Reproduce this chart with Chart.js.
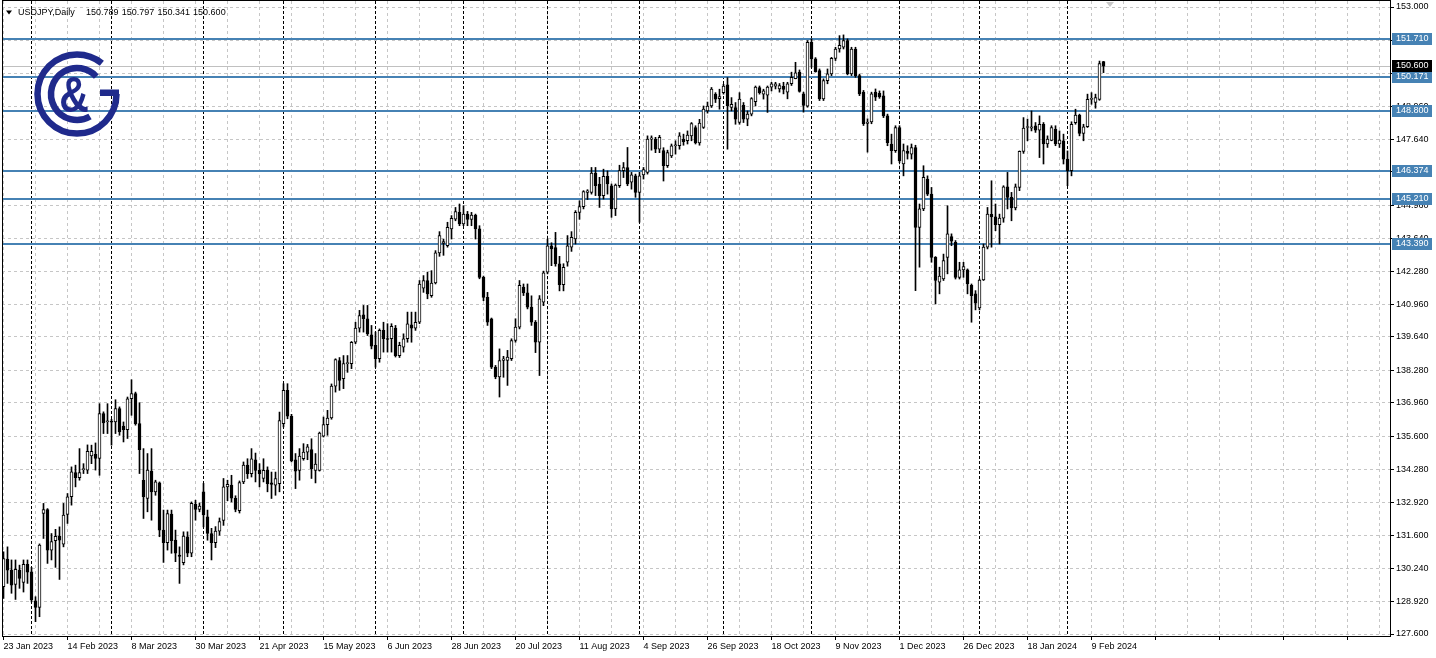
<!DOCTYPE html>
<html>
<head>
<meta charset="utf-8">
<title>USDJPY Daily</title>
<script src="https://cdn.jsdelivr.net/npm/chart.js@4.4.1/dist/chart.umd.min.js"></script>
<style>
  html, body { margin: 0; padding: 0; background: #fff; }
  #chart { display: block; }
</style>
</head>
<body>
<canvas id="chart" width="1436" height="658"></canvas>
<script>
// daily bars, 23 Jan 2023 .. 14 Feb 2024 (index = bar number)
const opens = [
  129.52,130.64,130.19,129.61,130.19,129.69,130.42,130.12,128.94,128.68,
  132.48,132.64,131.00,131.38,131.57,131.24,132.44,133.16,134.14,133.93,
  134.26,134.24,134.81,134.88,134.71,136.53,136.20,136.22,136.19,136.73,
  136.02,135.88,137.13,137.34,136.12,133.83,133.09,134.20,133.36,133.72,
  131.81,131.30,132.46,131.40,130.80,130.49,131.54,130.87,132.85,132.65,
  133.36,132.35,131.67,131.30,131.77,132.20,133.56,133.63,133.10,132.60,
  133.76,134.44,134.10,134.66,134.23,133.90,134.23,133.72,133.63,133.69,
  136.12,137.47,136.42,134.66,134.23,134.70,134.97,135.07,134.23,134.23,
  135.61,136.08,136.35,137.64,138.68,137.94,138.55,138.55,139.42,139.99,
  140.53,140.37,139.72,139.29,138.75,139.90,139.56,139.56,139.99,138.88,
  139.22,139.56,140.12,139.99,140.23,141.61,141.92,141.31,141.82,143.04,
  143.42,143.33,144.01,144.41,144.68,144.21,144.61,144.39,144.57,144.01,
  142.05,141.24,140.37,138.41,138.01,138.68,138.68,138.75,139.49,140.03,
  141.65,141.42,140.84,140.23,139.42,141.04,142.26,143.33,143.25,142.60,
  141.75,142.66,143.27,143.60,144.68,144.91,145.49,145.49,146.27,145.83,
  145.36,146.14,145.76,144.82,145.76,146.37,146.49,145.90,146.16,145.49,
  146.20,146.30,147.65,147.65,147.24,147.18,146.57,146.97,147.38,147.38,
  147.65,147.58,147.78,148.12,147.49,148.12,148.79,148.99,149.47,149.29,
  149.53,149.85,148.93,148.93,148.32,149.02,148.46,148.66,149.16,149.74,
  149.47,149.43,149.75,149.79,149.68,149.79,149.55,149.89,150.10,150.36,
  149.48,148.98,151.57,150.90,150.42,149.28,150.02,150.29,150.92,151.30,
  151.37,151.64,150.29,151.30,150.22,149.55,148.28,148.34,149.55,149.50,
  149.40,148.59,147.45,147.18,148.12,146.64,147.15,147.04,147.31,144.07,
  144.82,146.03,145.42,142.86,141.85,141.98,142.86,143.70,143.47,142.05,
  142.35,142.35,141.72,141.38,140.81,141.94,143.27,144.60,144.50,144.18,
  144.45,145.72,145.29,144.86,145.69,147.15,148.12,148.09,148.19,148.01,
  148.25,147.45,147.60,148.05,147.45,147.58,146.84,146.37,148.31,148.62,
  147.88,148.15,149.26,149.13,149.26,150.789
];
const highs = [
  130.93,131.13,130.60,130.60,130.39,130.60,130.60,130.30,129.11,131.25,
  132.89,132.68,131.67,131.84,131.94,132.89,133.29,134.37,134.44,135.11,
  134.50,135.26,135.25,135.34,136.93,136.60,136.93,136.30,137.09,136.80,
  136.19,137.20,137.90,137.40,136.97,135.11,134.91,135.11,133.83,133.76,
  132.62,132.62,132.62,131.81,131.13,131.74,131.74,132.95,133.02,132.91,
  133.70,132.62,131.88,131.95,132.30,133.90,133.83,134.03,133.20,133.80,
  134.57,134.70,135.11,134.93,134.50,134.70,134.37,134.16,134.16,136.59,
  137.74,137.74,136.50,134.91,135.11,135.31,135.28,135.51,134.91,135.78,
  136.39,136.66,137.73,138.75,138.80,138.88,138.88,139.45,140.23,140.71,
  140.91,140.91,140.10,139.83,139.96,140.23,140.17,140.17,140.10,139.42,
  139.76,140.64,140.64,140.64,141.92,142.12,142.26,142.32,143.13,143.90,
  143.60,144.28,144.55,144.88,145.02,144.95,144.72,144.68,144.61,144.14,
  142.10,141.44,140.40,138.48,139.15,138.85,139.09,139.56,140.37,141.92,
  141.78,141.78,141.30,140.30,141.31,142.30,143.60,143.45,143.87,142.90,
  142.60,143.74,143.90,144.75,145.15,145.56,145.60,146.50,146.50,146.10,
  146.43,146.36,145.83,145.83,146.59,146.70,147.31,146.30,146.23,146.30,
  146.50,147.78,147.78,147.72,147.80,147.30,147.20,147.45,147.58,147.91,
  147.85,147.98,148.32,148.19,148.45,148.99,149.15,149.74,149.53,149.67,
  149.87,150.14,149.33,149.13,149.53,149.13,148.79,149.33,149.80,149.80,
  149.67,149.80,149.95,149.95,149.90,149.95,149.95,150.36,150.76,150.45,
  149.55,151.64,151.71,150.95,150.49,150.09,150.49,150.96,151.37,151.84,
  151.87,151.71,151.37,151.37,150.28,149.62,148.47,149.55,149.68,149.60,
  149.60,148.66,147.85,148.19,148.19,147.45,147.38,147.45,147.40,145.02,
  146.57,146.16,145.69,142.89,142.46,142.99,144.95,143.81,143.54,142.66,
  142.66,142.39,141.78,141.51,141.98,143.40,144.88,145.96,145.02,144.61,
  145.76,146.30,145.49,145.83,147.17,148.52,148.46,148.79,148.32,148.59,
  148.32,147.78,148.19,148.19,147.98,147.85,147.17,148.35,148.86,148.66,
  148.25,149.47,149.53,149.47,150.81,150.797
];
const lows = [
  129.04,129.65,129.25,129.00,129.45,129.30,129.65,128.90,128.10,128.30,
  131.47,130.46,130.60,130.30,129.81,131.13,132.08,132.82,133.56,133.83,
  134.10,134.10,134.50,134.24,134.03,135.72,135.72,135.25,135.72,135.65,
  135.38,135.52,136.46,136.06,134.10,132.28,132.55,132.21,133.22,131.54,
  130.50,131.00,130.87,130.53,129.65,130.40,130.73,130.73,132.21,132.55,
  131.94,131.40,130.60,131.10,131.60,132.00,133.00,132.95,132.55,132.50,
  133.69,133.90,133.96,133.76,133.56,133.76,133.36,133.09,133.22,133.36,
  135.99,136.32,134.57,133.49,133.83,134.64,134.66,133.90,133.72,134.20,
  135.58,135.65,136.30,137.40,137.47,137.54,138.20,138.35,139.36,139.83,
  139.83,139.69,139.15,138.41,138.61,139.02,139.02,139.02,138.82,138.80,
  139.02,139.42,139.42,139.90,140.17,141.44,141.18,141.24,141.78,142.90,
  142.94,143.27,143.60,144.34,144.14,144.14,144.14,144.14,143.60,141.99,
  141.10,140.10,138.35,137.94,137.20,138.00,137.67,138.68,139.42,139.96,
  141.31,140.77,140.10,139.00,138.07,140.90,142.19,142.52,142.50,141.50,
  141.50,142.50,143.10,143.40,144.40,144.82,145.20,145.42,145.36,144.88,
  145.22,145.42,144.48,144.55,145.69,146.09,145.76,145.62,145.29,144.28,
  146.03,146.23,147.20,147.10,147.10,145.95,146.50,146.90,147.04,147.24,
  147.40,147.45,147.58,147.45,147.40,148.08,148.70,148.93,149.13,148.86,
  149.47,147.24,148.79,148.25,148.25,148.32,148.19,148.59,148.99,149.47,
  149.27,148.73,149.60,149.68,149.55,149.48,149.28,149.82,150.09,149.55,
  148.74,148.94,150.56,150.36,149.21,149.21,149.89,150.22,150.83,151.17,
  151.30,150.25,150.22,150.15,149.41,148.20,147.12,148.27,149.21,149.30,
  148.52,147.38,146.64,147.11,146.70,146.16,146.84,146.84,141.51,142.46,
  144.75,145.36,142.66,140.97,141.38,141.92,142.19,143.33,141.98,141.98,
  142.05,141.38,140.23,140.73,140.73,141.92,143.20,143.27,143.94,143.40,
  144.28,144.82,144.34,144.78,145.56,147.07,147.58,147.98,147.92,146.90,
  146.64,147.31,147.58,147.38,147.31,146.64,145.76,146.16,148.25,147.78,
  147.58,148.12,149.06,148.90,149.22,150.341
];
const closes = [
  130.66,130.19,129.58,130.22,129.85,130.42,130.10,128.98,128.68,131.20,
  132.64,131.00,131.34,131.56,131.40,132.42,133.16,134.17,133.93,134.14,
  134.30,135.00,135.00,134.71,136.53,136.15,136.24,136.18,136.73,135.79,
  135.88,137.13,137.34,136.12,135.07,133.16,134.24,133.36,133.76,131.81,
  131.30,132.48,131.38,130.87,130.74,131.57,130.87,132.89,132.65,132.78,
  132.42,131.67,131.30,131.77,132.15,133.56,133.66,133.10,132.65,133.73,
  134.44,134.10,134.70,134.23,134.10,134.23,133.69,133.66,133.90,136.25,
  137.47,136.42,134.61,134.20,134.81,134.97,135.18,134.30,134.48,135.74,
  136.08,136.35,137.64,138.72,137.87,138.55,138.58,139.42,139.99,140.50,
  140.37,139.76,139.26,138.75,139.90,139.56,139.53,140.06,138.88,139.29,
  139.56,140.17,139.99,140.23,141.78,141.92,141.38,141.82,143.04,143.74,
  143.50,144.07,144.44,144.71,144.21,144.61,144.39,144.57,144.01,142.05,
  141.24,140.23,138.41,138.01,138.68,138.75,138.82,139.49,140.03,141.72,
  141.42,140.84,140.23,139.42,141.18,142.23,143.33,143.20,142.60,141.75,
  142.45,143.33,143.67,144.68,144.91,145.52,145.55,146.27,145.76,145.36,
  146.14,145.83,144.82,145.79,146.37,146.49,145.83,146.20,145.49,146.16,
  146.41,147.65,147.70,147.24,147.72,146.57,147.10,147.38,147.42,147.78,
  147.54,147.81,148.28,147.49,148.30,148.86,148.99,149.67,149.27,149.37,
  149.80,149.00,149.06,148.46,149.27,148.46,148.66,149.29,149.76,149.53,
  149.60,149.76,149.89,149.89,149.82,149.66,149.89,150.15,150.33,149.58,
  149.01,151.57,150.90,150.38,149.28,150.02,150.29,150.92,151.30,151.45,
  151.64,150.29,151.30,150.22,149.48,148.27,148.34,149.48,149.35,149.36,
  148.59,147.50,147.18,148.12,146.77,147.18,147.07,147.31,144.07,144.82,
  146.10,145.42,142.86,141.92,142.10,142.73,143.81,143.51,142.05,142.35,
  142.48,141.78,141.31,141.00,141.94,143.27,144.61,144.50,144.18,144.45,
  145.72,145.29,144.86,145.72,147.15,148.09,148.15,148.15,148.01,148.25,
  147.45,147.65,148.12,147.45,147.61,146.84,146.37,148.25,148.62,147.88,
  148.15,149.26,149.30,149.33,150.71,150.600
];

// axis labels every 16 bars
const dateLabels = [
  '23 Jan 2023','14 Feb 2023','8 Mar 2023','30 Mar 2023','21 Apr 2023','15 May 2023',
  '6 Jun 2023','28 Jun 2023','20 Jul 2023','11 Aug 2023','4 Sep 2023','26 Sep 2023',
  '18 Oct 2023','9 Nov 2023','1 Dec 2023','26 Dec 2023','18 Jan 2024','9 Feb 2024'
];
// first bar of each month (period separators)
const monthStarts = [7, 27, 50, 70, 93, 115, 136, 159, 180, 202, 224, 244, 266];
const priceTicks = [
  127.6, 128.92, 130.24, 131.6, 132.92, 134.28, 135.6, 136.96, 138.28, 139.64,
  140.96, 142.28, 143.64, 144.96, 146.32, 147.64, 148.96, 150.32, 151.64, 153.0
];
const levels = [151.710, 150.171, 148.800, 146.374, 145.210, 143.390];
const symbol = 'USDJPY,Daily';

const FONT = '"Liberation Sans", Arial, sans-serif';
const gridColor = '#c6c6c6';
const levelColor = '#4682b4';
const logoColor = '#1f2a8c';

const bodies = closes.map((c, i) => ({ x: i, y: [Math.min(opens[i], c), Math.max(opens[i], c)] }));
const wicks = highs.map((h, i) => ({ x: i, y: [lows[i], h] }));
const bodyFill = closes.map((c, i) => (c >= opens[i] ? '#ffffff' : '#000000'));

const xGrid = [];
for (let v = 0; v <= 344; v += 8) xGrid.push(v);

function drawLogo(ctx) {
  const cx = 77, cy = 94;
  ctx.save();
  ctx.strokeStyle = logoColor;
  ctx.fillStyle = logoColor;
  ctx.lineWidth = 6.5;
  ctx.beginPath();
  ctx.arc(cx, cy, 39.5, 0, 309 * Math.PI / 180);
  ctx.stroke();
  ctx.fillRect(100, 89.5, 19, 6.5);
  ctx.beginPath();
  ctx.arc(cx, cy, 26, 60 * Math.PI / 180, 318 * Math.PI / 180);
  ctx.stroke();
  ctx.translate(74, 112);
  ctx.scale(0.82, 1);
  ctx.font = 'bold 50px ' + FONT;
  ctx.textAlign = 'center';
  ctx.fillText('&', 0, 0);
  ctx.restore();
}

const mtOverlay = {
  id: 'mtOverlay',
  beforeDatasetsDraw(chart) {
    const { ctx, chartArea: a, scales: { x, y } } = chart;
    ctx.save();
    ctx.beginPath();
    ctx.rect(a.left, a.top, a.right - a.left, a.bottom - a.top);
    ctx.clip();
    ctx.strokeStyle = '#000';
    ctx.lineWidth = 1;
    ctx.setLineDash([3, 2]);
    monthStarts.forEach(i => {
      const px = Math.floor(x.getPixelForValue(i)) + 0.5;
      ctx.beginPath();
      ctx.moveTo(px, a.top);
      ctx.lineTo(px, a.bottom);
      ctx.stroke();
    });
    ctx.setLineDash([]);
    const py = Math.round(y.getPixelForValue(closes[closes.length - 1])) + 0.5;
    ctx.strokeStyle = '#c0c0c0';
    ctx.beginPath();
    ctx.moveTo(a.left, py);
    ctx.lineTo(a.right, py);
    ctx.stroke();
    ctx.fillStyle = levelColor;
    levels.forEach(v => {
      const ly = Math.round(y.getPixelForValue(v));
      ctx.fillRect(a.left, ly - 1, a.right - a.left, 2);
    });
    ctx.restore();
  },
  afterDraw(chart) {
    const { ctx, chartArea: a, scales: { y } } = chart;
    ctx.save();
    // frame
    ctx.strokeStyle = '#000';
    ctx.lineWidth = 1;
    ctx.strokeRect(a.left + 0.5, 0.5, a.right - a.left, a.bottom);
    // price labels on the axis
    ctx.font = '9px ' + FONT;
    ctx.textBaseline = 'middle';
    ctx.textAlign = 'left';
    levels.forEach(v => {
      const ly = Math.round(y.getPixelForValue(v));
      ctx.fillStyle = levelColor;
      ctx.fillRect(a.right + 2, ly - 6, 40, 12);
      ctx.fillStyle = '#fff';
      ctx.fillText(v.toFixed(3), a.right + 6, ly);
    });
    const last = closes[closes.length - 1];
    const cy = Math.round(y.getPixelForValue(last));
    ctx.fillStyle = '#000';
    ctx.fillRect(a.right + 2, cy - 6, 40, 12);
    ctx.fillStyle = '#fff';
    ctx.fillText(last.toFixed(3), a.right + 6, cy);
    // header
    const n = closes.length - 1;
    ctx.fillStyle = '#000';
    ctx.beginPath();
    ctx.moveTo(6, 10.5); ctx.lineTo(12, 10.5); ctx.lineTo(9, 14.5); ctx.closePath();
    ctx.fill();
    ctx.textBaseline = 'alphabetic';
    ctx.fillText(symbol, 18, 15);
    [opens[n], highs[n], lows[n], closes[n]].forEach((v, k) => {
      ctx.fillText(v.toFixed(3), 86 + k * 35.7, 15);
    });
    // chart shift marker
    ctx.fillStyle = '#c8c8c8';
    ctx.beginPath();
    ctx.moveTo(1106, 2); ctx.lineTo(1114, 2); ctx.lineTo(1110, 7); ctx.closePath();
    ctx.fill();
    ctx.restore();
    drawLogo(ctx);
  }
};

new Chart(document.getElementById('chart'), {
  type: 'bar',
  data: {
    datasets: [
      {
        data: bodies,
        backgroundColor: bodyFill,
        borderColor: '#000',
        borderWidth: 1,
        borderSkipped: false,
        barThickness: 3,
        minBarLength: 1,
        grouped: false,
        order: 0
      },
      {
        data: wicks,
        backgroundColor: '#000',
        borderWidth: 0,
        barThickness: 1,
        grouped: false,
        order: 1
      }
    ]
  },
  options: {
    responsive: false,
    animation: false,
    devicePixelRatio: 1,
    layout: { padding: { left: 2, top: 1, right: 0, bottom: 0 } },
    plugins: { legend: { display: false }, tooltip: { enabled: false } },
    scales: {
      x: {
        type: 'linear',
        offset: false,
        min: -0.375,
        max: 346.625,
        afterBuildTicks: s => { s.ticks = xGrid.map(v => ({ value: v })); },
        afterFit: s => { s.height = 22; s.paddingLeft = 0; s.paddingRight = 0; },
        grid: {
          offset: false,
          color: gridColor,
          tickLength: 4,
          tickWidth: 1,
          tickBorderDash: [],
          tickColor: c => (c.tick && c.tick.value % 16 === 0 ? '#000' : 'rgba(0,0,0,0)')
        },
        border: { display: false, dash: [3, 3] },
        ticks: {
          autoSkip: false,
          maxRotation: 0,
          minRotation: 0,
          align: 'start',
          padding: 1,
          color: '#000',
          font: { family: FONT, size: 9 },
          callback: v => (v % 16 === 0 && v / 16 < dateLabels.length ? dateLabels[v / 16] : '')
        }
      },
      y: {
        position: 'right',
        min: 127.519,
        max: 153.2431,
        afterBuildTicks: s => { s.ticks = priceTicks.map(v => ({ value: v })); },
        afterFit: s => { s.width = 46; s.paddingTop = 0; s.paddingBottom = 0; },
        grid: {
          color: gridColor,
          tickLength: 4,
          tickWidth: 1,
          tickColor: '#000',
          tickBorderDash: []
        },
        border: { display: false, dash: [3, 3] },
        ticks: {
          padding: 2,
          color: '#000',
          font: { family: FONT, size: 9 },
          callback: v => v.toFixed(3)
        }
      }
    }
  },
  plugins: [mtOverlay]
});
</script>
</body>
</html>
